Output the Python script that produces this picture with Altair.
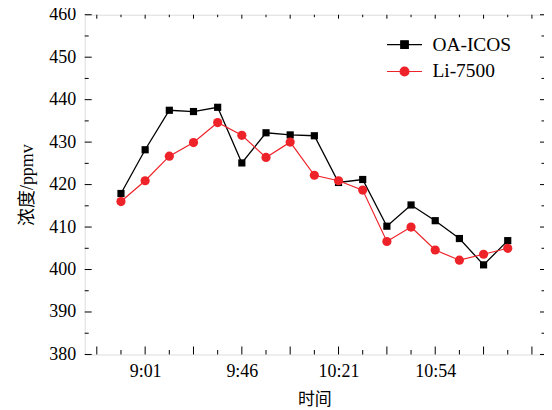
import altair as alt
import pandas as pd

# ---- data ----
idx = list(range(17))
oa_icos = [417.9, 428.2, 437.5, 437.2, 438.2, 425.1, 432.2, 431.7, 431.5, 420.5,
           421.2, 410.2, 415.2, 411.5, 407.3, 401.1, 406.8]
li7500 = [416.0, 420.9, 426.7, 429.9, 434.6, 431.6, 426.4, 430.0, 422.2, 420.9,
          418.7, 406.6, 410.0, 404.6, 402.2, 403.6, 405.0]
series_names = ["OA-ICOS", "Li-7500"]
series_colors = ["#000000", "#ee2229"]
x_label_pos = [1, 5, 9, 13]
x_labels = ["9:01", "9:46", "10:21", "10:54"]
x_major = list(range(-1, 18, 2))
x_minor = list(range(0, 17, 2))
y_values = list(range(380, 461, 10))
y_minor = list(range(385, 460, 10))

W, H = 461, 341
SERIF = "Liberation Serif, Noto Sans CJK SC"
CJK = "Noto Sans CJK SC"

rows = []
for name, vals in zip(series_names, [oa_icos, li7500]):
    for i, v in zip(idx, vals):
        rows.append({"series": name, "idx": i, "value": v})
df = pd.DataFrame(rows)

xscale = alt.Scale(domain=[-1.5, 17.5], nice=False, zero=False)
yscale = alt.Scale(domain=[380, 460], nice=False, zero=False)

lab_expr = "[" + ",".join("'%s'" % s for s in x_labels) + "][(datum.value-1)/4]"
x_enc = alt.X("idx:Q", scale=xscale,
              axis=alt.Axis(values=x_label_pos, labelExpr=lab_expr, tickSize=0, domain=False,
                            grid=False, labelFont=SERIF, labelFontSize=18, labelColor="black",
                            labelPadding=8, title="时间", titleFont=CJK, titleFontSize=17,
                            titleFontWeight="normal", titleColor="black", titlePadding=11))
y_enc = alt.Y("value:Q", scale=yscale,
              axis=alt.Axis(values=y_values, tickSize=0, domain=False, grid=False,
                            labelFont=SERIF, labelFontSize=18, labelColor="black", labelPadding=9,
                            title="浓度/ppmv", titleFont=SERIF, titleFontSize=18,
                            titleFontWeight="normal", titleColor="black", titlePadding=12))

cscale = alt.Scale(domain=series_names, range=series_colors)
sq_path = "M-1.3,0H1.3M-0.28,-0.28H0.28V0.28H-0.28Z"
ci_path = "M-1.3,0H1.3M-0.33,0A0.33,0.33,0,1,0,0.33,0A0.33,0.33,0,1,0,-0.33,0Z"
leg = alt.Legend(title=None, orient="none", legendX=306.5, legendY=15.5, padding=0,
                 symbolSize=729, labelOffset=13.5, rowPadding=3, labelFont=SERIF,
                 labelFontSize=19.5, labelColor="black", symbolStrokeWidth=1.2,
                 symbolOpacity=1, labelLimit=200)

base = alt.Chart(df)

legend_layer = base.mark_point(filled=True, size=729, strokeWidth=1.2).encode(
    x=x_enc, y=y_enc,
    color=alt.Color("series:N", scale=cscale, legend=leg),
    stroke=alt.Stroke("series:N", scale=alt.Scale(domain=series_names, range=series_colors), legend=leg),
    shape=alt.Shape("series:N", scale=alt.Scale(domain=series_names, range=[sq_path, ci_path]), legend=leg),
).transform_filter("false")

def series_layers(name, shape, size, lw):
    d = base.transform_filter(alt.datum.series == name)
    c = alt.Color("series:N", scale=cscale, legend=None)
    ln = d.mark_line(strokeWidth=lw).encode(x=x_enc, y=y_enc, color=c)
    pt = d.mark_point(filled=True, shape=shape, size=size, opacity=1).encode(x=x_enc, y=y_enc, color=c)
    return [ln, pt]

layers = [legend_layer]
layers += series_layers("OA-ICOS", "square", 52, 1.3)
layers += series_layers("Li-7500", "circle", 85, 1.2)

# inward axis ticks
def xticks(vals, y0, y1):
    return alt.Chart(pd.DataFrame({"t": vals})).mark_rule(color="black", strokeWidth=1).encode(
        x=alt.X("t:Q", scale=xscale), y=alt.value(y0), y2=alt.value(y1))

def yticks(vals, x0, x1):
    return alt.Chart(pd.DataFrame({"t": vals})).mark_rule(color="black", strokeWidth=1).encode(
        y=alt.Y("t:Q", scale=yscale), x=alt.value(x0), x2=alt.value(x1))

layers += [
    xticks(x_major, H, H - 8), xticks(x_minor, H, H - 4.5),
    xticks(x_major, 0, 4), xticks(x_minor, 0, 2.5),
    yticks(y_values, 0, 7), yticks(y_minor, 0, 4),
    yticks(y_values, W, W - 4), yticks(y_minor, W, W - 2.5),
]

chart = alt.layer(*layers).properties(
    width=W, height=H,
    autosize=alt.AutoSizeParams(type="none"),
    padding={"left": 77, "top": 6, "right": 0, "bottom": 55},
).configure_view(stroke="black", strokeWidth=1.2).configure(background="white")

chart.save("out.html", embed_options={"renderer": "svg", "actions": False})
